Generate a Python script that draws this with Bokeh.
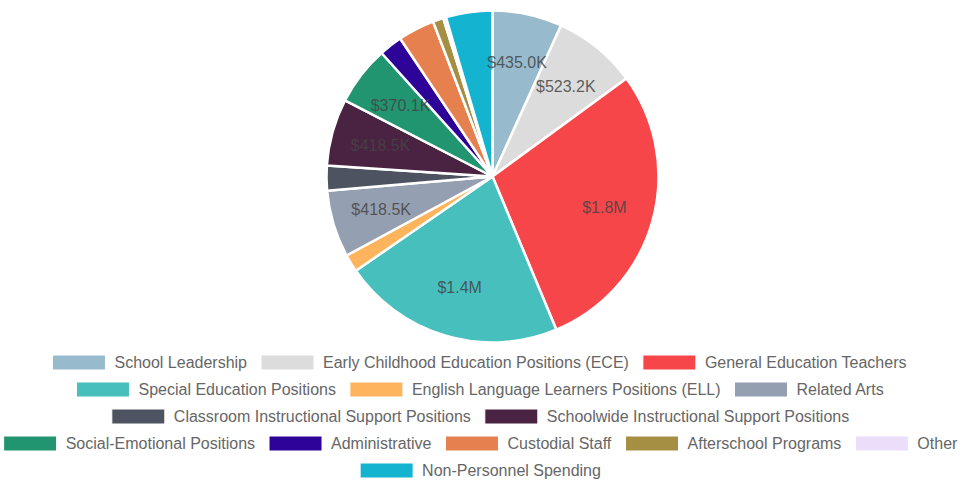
import math
from bokeh.plotting import figure
from bokeh.models import Range1d, ColumnDataSource
from bokeh.core.properties import value
from bokeh.embed import file_html
from bokeh.resources import INLINE

# ---------------- data ----------------
categories = [
    "School Leadership",
    "Early Childhood Education Positions (ECE)",
    "General Education Teachers",
    "Special Education Positions",
    "English Language Learners Positions (ELL)",
    "Related Arts",
    "Classroom Instructional Support Positions",
    "Schoolwide Instructional Support Positions",
    "Social-Emotional Positions",
    "Administrative",
    "Custodial Staff",
    "Afterschool Programs",
    "Other",
    "Non-Personnel Spending",
]
amounts = [435000, 523200, 1845000, 1390000, 110000, 418500, 155000,
           418500, 370100, 145000, 228000, 66000, 18000, 290000]
colors = ["#97BBCD", "#DCDCDC", "#F7464A", "#46BFBD", "#FDB45C", "#949FB1",
          "#4D5360", "#4B2342", "#21956F", "#2E0398", "#E6804F", "#A58F43",
          "#EBDEFA", "#14B3CF"]
legend_rows = [[0, 1, 2], [3, 4, 5], [6, 7], [8, 9, 10, 11, 12], [13]]

# ---------------- layout ----------------
W, H = 961, 481


def fy(py):
    return H - py


p = figure(width=W, height=H, x_range=Range1d(0, W), y_range=Range1d(0, H),
           output_backend="svg", toolbar_location=None, min_border=0)
p.axis.visible = False
p.grid.visible = False
p.outline_line_color = None
p.background_fill_color = "white"
p.border_fill_color = "white"

cx, cy, R = 492, fy(176), 166
total = float(sum(amounts))
starts, ends, mids = [], [], []
acc = 0.0
for v in amounts:
    a0 = acc / total * 2 * math.pi
    acc += v
    a1 = acc / total * 2 * math.pi
    starts.append(math.pi / 2 - a0)
    ends.append(math.pi / 2 - a1)
    mids.append((a0 + a1) / 2)

src = ColumnDataSource(dict(start=starts, end=ends, color=colors, cat=categories))
p.wedge(x=cx, y=cy, radius=R, start_angle="start", end_angle="end",
        direction="clock", fill_color="color", line_color="white",
        line_width=2.5, source=src)


def fmt(v):
    if v >= 1e6:
        return "${:.1f}M".format(v / 1e6)
    return "${:.1f}K".format(v / 1e3)


lx, ly, lt = [], [], []
for v, m in zip(amounts, mids):
    if v / total > 0.05:
        lx.append(cx + 0.7 * R * math.sin(m))
        ly.append(cy + 0.7 * R * math.cos(m))
        lt.append(fmt(v))
p.text(x=lx, y=ly, text=lt, text_align="center", text_baseline="middle",
       text_font=value("Liberation Sans"), text_font_size="16px",
       text_color="#444444", text_alpha=0.85)

# ---------------- legend ----------------
CW = {' ': 278, 'a': 556, 'b': 556, 'c': 500, 'd': 556, 'e': 556, 'f': 278,
      'g': 556, 'h': 556, 'i': 222, 'j': 222, 'k': 500, 'l': 222, 'm': 833,
      'n': 556, 'o': 556, 'p': 556, 'q': 556, 'r': 333, 's': 500, 't': 278,
      'u': 556, 'v': 500, 'w': 722, 'x': 500, 'y': 500, 'z': 500, 'A': 667,
      'B': 667, 'C': 722, 'D': 722, 'E': 667, 'F': 611, 'G': 778, 'H': 722,
      'I': 278, 'J': 500, 'K': 667, 'L': 556, 'M': 833, 'N': 722, 'O': 778,
      'P': 667, 'Q': 778, 'R': 722, 'S': 667, 'T': 611, 'U': 722, 'V': 667,
      'W': 944, 'X': 667, 'Y': 667, 'Z': 611, '(': 333, ')': 333, '-': 333}
FS = 16
BW, BH, GAP_T, GAP_I = 53, 15, 9, 14
LCX = 480.0


def tw(s):
    return sum(CW.get(ch, 556) for ch in s) * FS / 1000.0


bx, by, bc, tx, ty, tt = [], [], [], [], [], []
row_y = 362.0
for row in legend_rows:
    total_w = sum(BW + GAP_T + tw(categories[i]) for i in row) + GAP_I * (len(row) - 1)
    x0 = LCX - total_w / 2
    for i in row:
        bx.append(x0 + BW / 2)
        by.append(fy(row_y))
        bc.append(colors[i])
        tx.append(x0 + BW + GAP_T)
        ty.append(fy(row_y))
        tt.append(categories[i])
        x0 += BW + GAP_T + tw(categories[i]) + GAP_I
    row_y += 27

p.rect(x=bx, y=by, width=BW, height=BH, fill_color=bc, line_color="white",
       line_width=1)
p.text(x=tx, y=ty, text=tt, text_align="left", text_baseline="middle",
       text_font=value("Liberation Sans"), text_font_size="16px",
       text_color="#666666")

open("out.html", "w").write(file_html(p, INLINE))
